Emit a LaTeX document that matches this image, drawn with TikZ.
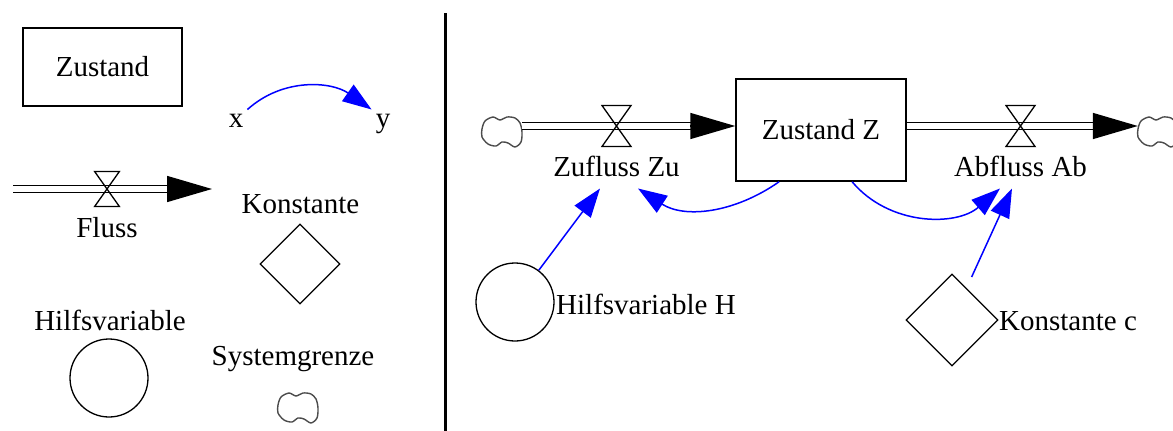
\documentclass[tikz,border=0pt]{standalone}
\usepackage{fontspec}
\setmainfont{Liberation Serif}
\usetikzlibrary{arrows.meta,shapes.geometric,calc}
\tikzset{
  txt/.style={font=\fontsize{29}{34}\selectfont},
  lbl/.style={txt, inner sep=0pt, anchor=base},
  stock/.style={txt, draw, rectangle, line width=1.5pt, inner sep=0pt},
  aux/.style={draw, circle, line width=1.3pt, minimum size=78pt, inner sep=0pt},
  const/.style={draw, diamond, line width=1.3pt, inner sep=0pt, aspect=1},
  sink/.style={rectangle, minimum width=40pt, minimum height=32pt, inner sep=0pt},
  cloudpic/.pic={\draw[black!70, line width=1.4pt] plot[smooth cycle, tension=0.5] coordinates
     {(-20,-3) (-17,-11) (-9,-15) (-2,-12) (5,-15) (13,-14) (18,-9) (20,0) (19,10) (13,15) (6,11) (0,10) (-6,14) (-14,12) (-20,5)};},
  pipe/.style={draw=black, double=white, double distance=5.5pt, line width=1.5pt},
  flowtip/.style={line width=1.5pt, -{Triangle[length=45pt,width=26pt]}},
  link/.style={blue, line width=1.5pt, -{Triangle[length=29pt,width=20pt]}},
  valve/.pic={\draw[line width=1.3pt] (-14.5,-20.5) -- (14.5,-20.5) -- (-14.5,20.5) -- (14.5,20.5) -- cycle;},
}
\begin{document}
\begin{tikzpicture}[x=1pt,y=-1pt]
\useasboundingbox (0,0) rectangle (1173,431);
\fill[white] (0,0) rectangle (1173,431);

% ---------- legend (left) ----------
\node[stock, minimum width=159pt, minimum height=78pt] (zbox) at (102.5,67) {Zustand};

\node[lbl, inner sep=4pt] (x) at (236,127) {x};
\node[lbl, inner sep=4pt] (y) at (383,127) {y};
\draw[link] (x.north east) to[out=42,in=145] (y.north west);

\coordinate (f0s) at (13,189);
\coordinate (v0) at (107,189);
\coordinate (f0e) at (212,189);
\draw[pipe] (f0s) -- ($(f0e)+(-44,0)$);
\draw[flowtip] ($(f0e)+(-45,0)$) -- (f0e);
\pic[scale=0.85] at (v0) {valve};
\node[lbl] (fluss) at (107,237) {Fluss};

\node[lbl] (konst) at (300.5,213) {Konstante};
\node[const, minimum width=80pt, minimum height=80pt] (d0) at (300,264) {};

\node[lbl] (hilf) at (110,330) {Hilfsvariable};
\node[aux] (c0) at (109,378) {};

\node[lbl] (sysg) at (293,365) {Systemgrenze};
\node[sink] (s0) at (298,408) {};
\pic at (s0.center) {cloudpic};

% separator
\coordinate (sepT) at (445,13);
\coordinate (sepB) at (445,431);
\draw[line width=3pt] (sepT) -- (sepB);

% ---------- model (right) ----------
\node[stock, minimum width=170pt, minimum height=102pt] (boxZ) at (821,130) {Zustand Z};
\node[sink] (cloudL) at (502,132) {};
\pic at (cloudL.center) {cloudpic};
\node[sink] (cloudR) at (1158,132) {};
\pic at (cloudR.center) {cloudpic};
\coordinate (v1) at (616.5,126);
\coordinate (v2) at (1020.5,126);

\draw[pipe] (v1 -| cloudL.east) -- ($(v1 -| boxZ.west)+(-44,0)$);
\draw[flowtip] ($(v1 -| boxZ.west)+(-45,0)$) -- (v1 -| boxZ.west);
\pic at (v1) {valve};

\draw[pipe] (v2 -| boxZ.east) -- ($(v2 -| cloudR.west)+(-44,0)$);
\draw[flowtip] ($(v2 -| cloudR.west)+(-45,0)$) -- (v2 -| cloudR.west);
\pic at (v2) {valve};

\node[lbl, inner xsep=2pt, inner ysep=12pt] (zu) at (616.5,176) {Zufluss Zu};
\node[lbl, inner xsep=2pt, inner ysep=12pt] (ab) at (1020.5,176) {Abfluss Ab};

\node[aux] (cH) at (515,302) {};
\node[lbl, anchor=base west] (tH) at (556,314) {Hilfsvariable H};
\node[const, minimum width=92pt, minimum height=92pt] (cc) at (952,320) {};
\node[lbl, anchor=base west] (tc) at (999,330) {Konstante c};

\draw[link] (cH) -- ([xshift=-16.5pt]zu.south);
\draw[link] (boxZ.231) to[out=215,in=327] ([xshift=21.5pt]zu.south);
\draw[link] (boxZ.301) to[out=310,in=221] ([xshift=-20.5pt]ab.south);
\draw[link, shorten <=12pt] (cc) -- ([xshift=-8.5pt]ab.south);
\end{tikzpicture}
\end{document}
